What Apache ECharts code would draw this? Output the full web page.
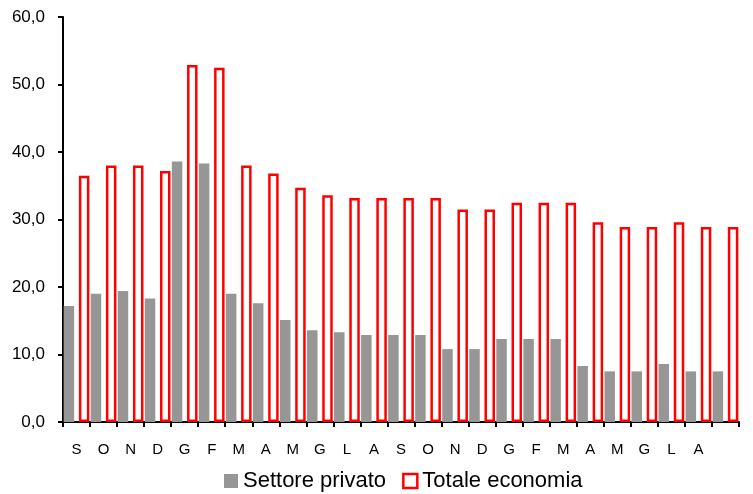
<!DOCTYPE html>
<html>
<head>
<meta charset="utf-8">
<script src="https://cdn.jsdelivr.net/npm/echarts@6/dist/echarts.min.js"></script>
<style>html,body{margin:0;padding:0;background:#fff}#c{width:753px;height:494px}</style>
</head>
<body>
<div id="c"></div>
<script>
const categories = ['S','O','N','D','G','F','M','A','M','G','L','A','S','O','N','D','G','F','M','A','M','G','L','A',''];
const settorePrivato = [17.2,19.0,19.4,18.3,38.6,38.3,19.0,17.6,15.1,13.6,13.3,12.9,12.9,12.9,10.8,10.8,12.3,12.3,12.3,8.3,7.5,7.5,8.6,7.5,7.5];
const totaleEconomia = [36.5,38.0,38.0,37.2,52.9,52.5,38.0,36.8,34.7,33.6,33.2,33.2,33.2,33.2,31.5,31.5,32.5,32.5,32.5,29.6,28.9,28.9,29.6,28.9,28.9];
const seriesNames = ['Settore privato','Totale economia'];

const chart = echarts.init(document.getElementById('c'));
const font = 'Liberation Sans, Arial, sans-serif';
chart.setOption({
  animation: false,
  grid: {left: 63, right: 14, top: 17, bottom: 72},
  legend: {
    top: 466, left: 224, padding: 0,
    itemWidth: 14, itemHeight: 14, itemGap: 16,
    textStyle: {fontFamily: font, fontSize: 22, color: '#000', lineHeight: 30},
    data: [
      {name: seriesNames[0], icon: 'rect'},
      {name: seriesNames[1], icon: 'rect', itemStyle: {color: '#fff', borderColor: '#ff0000', borderWidth: 2.5}}
    ]
  },
  xAxis: {
    type: 'category', data: categories,
    axisLine: {lineStyle: {color: '#000', width: 2}},
    axisTick: {show: true, length: 5, lineStyle: {color: '#000', width: 2}},
    axisLabel: {fontFamily: font, fontSize: 15, color: '#000', margin: 20, interval: 0}
  },
  yAxis: {
    type: 'value', min: 0, max: 60, interval: 10,
    splitLine: {show: false},
    axisLine: {show: true, lineStyle: {color: '#000', width: 2}},
    axisTick: {show: true, length: 5, lineStyle: {color: '#000', width: 2}},
    axisLabel: {fontFamily: font, fontSize: 17, color: '#000', margin: 18,
      formatter: v => v.toFixed(1).replace('.', ',')}
  },
  series: [
    {name: seriesNames[0], type: 'bar', data: settorePrivato, barWidth: 10.5, barGap: '45%',
     itemStyle: {color: '#969696'}},
    {name: seriesNames[1], type: 'bar', data: totaleEconomia, barWidth: 10.5,
     itemStyle: {color: 'rgba(255,255,255,0)', borderColor: '#ff0000', borderWidth: 2.5}}
  ]
});
</script>
</body>
</html>
